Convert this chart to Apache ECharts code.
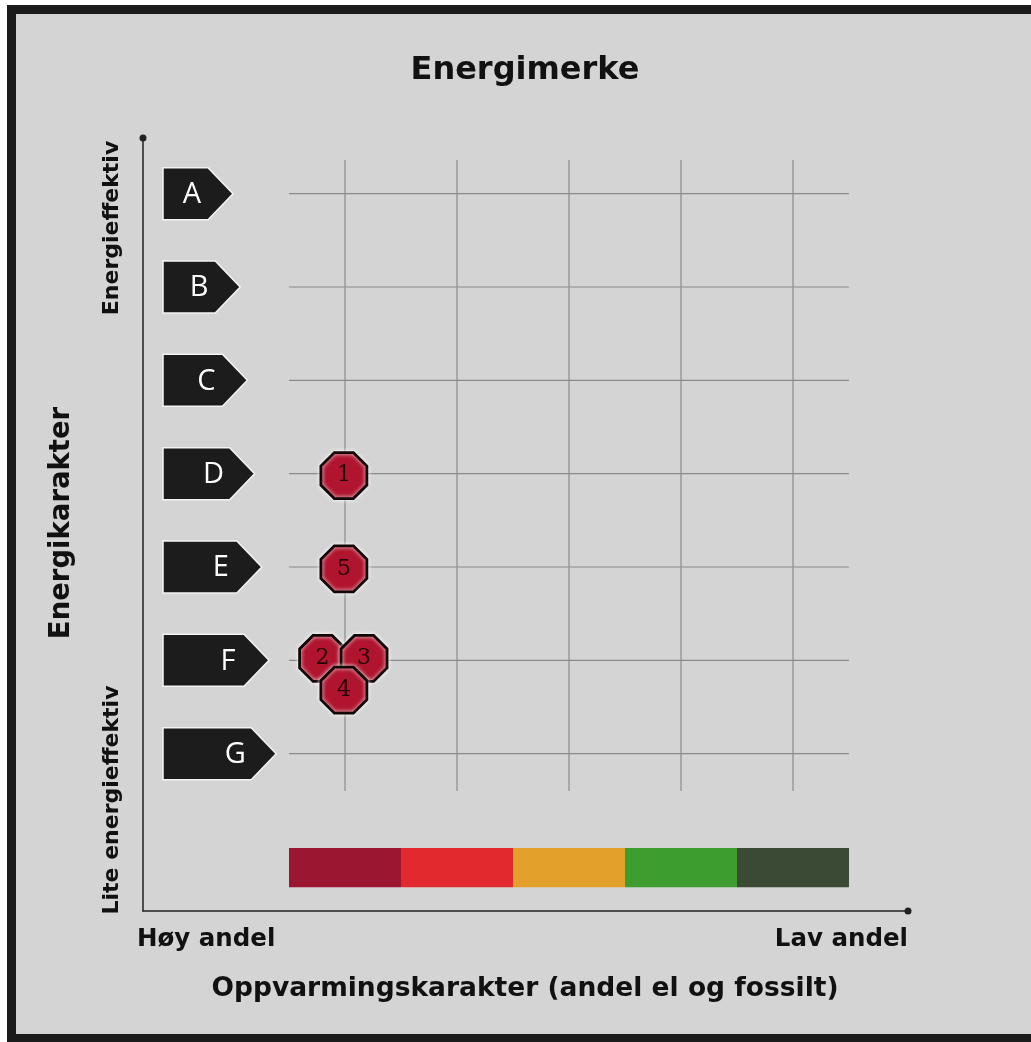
<!DOCTYPE html>
<html>
<head>
<meta charset="utf-8">
<title>Energimerke</title>
<script src="https://cdn.jsdelivr.net/npm/echarts@6/dist/echarts.min.js"></script>
<style>
    html, body { margin: 0; padding: 0; background: #ffffff; }
    #chart { width: 1031px; height: 1042px; }
</style>
</head>
<body>
<div id="chart"></div>
<script>
// energy classes down the left side, A = best
const energyClasses = ['A', 'B', 'C', 'D', 'E', 'F', 'G'];
// heating character steps along the bottom (high share -> low share of el/fossil)
const heatingSteps = [0, 1, 2, 3, 4];
// buildings placed in the matrix
const buildingIds = ['1', '2', '3', '4', '5'];
const buildingHeating = [0.49, 0.30, 0.67, 0.49, 0.49];
const buildingEnergy = [3.52, 5.48, 5.48, 5.82, 4.52];

const bandColors = ['#9b1731', '#e2292d', '#e3a02b', '#3d9e2f', '#3b4a34'];
const octagon = 'path://M29.3,0 L70.7,0 L100,29.3 L100,70.7 L70.7,100 L29.3,100 L0,70.7 L0,29.3 Z';
const boldFont = '"DejaVu Sans", "Liberation Sans", sans-serif';

const myChart = echarts.init(document.getElementById('chart'));

const option = {
    backgroundColor: '#ffffff',
    animation: false,
    graphic: [
        // card background with black frame
        {
            type: 'rect', z: -10,
            shape: { x: 11.5, y: 9.5, width: 1026, height: 1029 },
            style: { fill: '#d4d4d4', stroke: '#1b1b1b', lineWidth: 9 }
        },
        {
            type: 'text', x: 525, y: 71, z: 50,
            style: { text: 'Energimerke', align: 'center', verticalAlign: 'middle',
                font: 'bold 32px ' + boldFont, fill: '#111' }
        },
        {
            type: 'text', x: 62, y: 523, rotation: Math.PI / 2, z: 50,
            style: { text: 'Energikarakter', align: 'center', verticalAlign: 'middle',
                font: 'bold 27.5px ' + boldFont, fill: '#111' }
        },
        {
            type: 'text', x: 112, y: 228, rotation: Math.PI / 2, z: 50,
            style: { text: 'Energieffektiv', align: 'center', verticalAlign: 'middle',
                font: 'bold 22px ' + boldFont, fill: '#111' }
        },
        {
            type: 'text', x: 112, y: 800, rotation: Math.PI / 2, z: 50,
            style: { text: 'Lite energieffektiv', align: 'center', verticalAlign: 'middle',
                font: 'bold 22px ' + boldFont, fill: '#111' }
        },
        {
            type: 'text', x: 137, y: 940, z: 50,
            style: { text: 'Høy andel', align: 'left', verticalAlign: 'middle',
                font: 'bold 24.5px ' + boldFont, fill: '#111' }
        },
        {
            type: 'text', x: 908, y: 940, z: 50,
            style: { text: 'Lav andel', align: 'right', verticalAlign: 'middle',
                font: 'bold 24.5px ' + boldFont, fill: '#111' }
        },
        {
            type: 'text', x: 525, y: 989, z: 50,
            style: { text: 'Oppvarmingskarakter (andel el og fossilt)', align: 'center', verticalAlign: 'middle',
                font: 'bold 26.5px ' + boldFont, fill: '#111' }
        }
    ],
    grid: [
        // matrix area: 5 heating columns x 7 classes (+ room for the colour band)
        { left: 289, top: 147, width: 560, height: 746.67 },
        // outer axis frame
        { left: 143, top: 138, width: 765, height: 773 }
    ],
    xAxis: [
        { type: 'value', gridIndex: 0, min: 0, max: 5, show: false },
        {
            type: 'value', gridIndex: 1, min: 0, max: 1,
            axisLine: { show: true, symbol: ['none', 'circle'], symbolSize: [7, 7],
                lineStyle: { color: '#222', width: 1.5 } },
            axisTick: { show: false }, axisLabel: { show: false }, splitLine: { show: false }
        }
    ],
    yAxis: [
        { type: 'value', gridIndex: 0, min: 0, max: 8, inverse: true, show: false },
        {
            type: 'value', gridIndex: 1, min: 0, max: 1,
            axisLine: { show: true, symbol: ['none', 'circle'], symbolSize: [7, 7],
                lineStyle: { color: '#222', width: 1.5 } },
            axisTick: { show: false }, axisLabel: { show: false }, splitLine: { show: false }
        }
    ],
    series: [
        {
            // vertical grid lines through the heating columns
            type: 'custom', xAxisIndex: 0, yAxisIndex: 0, z: 1, silent: true,
            data: heatingSteps.map(s => [s + 0.5, 0]),
            renderItem: (params, api) => {
                const p0 = api.coord([api.value(0), 0.14]);
                const p1 = api.coord([api.value(0), 6.9]);
                return { type: 'line', shape: { x1: p0[0], y1: p0[1], x2: p1[0], y2: p1[1] },
                    style: { stroke: '#8a8a8a', lineWidth: 1.2 } };
            }
        },
        {
            // horizontal grid lines through the energy classes
            type: 'custom', xAxisIndex: 0, yAxisIndex: 0, z: 1, silent: true,
            data: energyClasses.map((c, i) => [0, i + 0.5]),
            renderItem: (params, api) => {
                const p0 = api.coord([0, api.value(1)]);
                const p1 = api.coord([5, api.value(1)]);
                return { type: 'line', shape: { x1: p0[0], y1: p0[1], x2: p1[0], y2: p1[1] },
                    style: { stroke: '#8a8a8a', lineWidth: 1.2 } };
            }
        },
        {
            // class arrows A..G
            type: 'custom', xAxisIndex: 0, yAxisIndex: 0, z: 3, silent: true,
            data: energyClasses.map((c, i) => [0, i + 0.5]),
            renderItem: (params, api) => {
                const i = params.dataIndex;
                const c = api.coord([0, api.value(1)]);
                const left = c[0] - 126;
                const tip = c[0] - 56 + i * 7.2;
                const body = tip - 25;
                const h = 26;
                return {
                    type: 'group',
                    children: [
                        {
                            type: 'polygon',
                            shape: { points: [[left, c[1] - h], [body, c[1] - h], [tip, c[1]], [body, c[1] + h], [left, c[1] + h]] },
                            style: { fill: '#1c1c1c', stroke: '#f4f4f4', lineWidth: 1.5 }
                        },
                        {
                            type: 'text',
                            style: { text: energyClasses[i], x: tip - 41, y: c[1] + 1, align: 'center', verticalAlign: 'middle',
                                fill: '#ffffff', font: '500 29px "Open Sans", sans-serif' }
                        }
                    ]
                };
            }
        },
        {
            // heating colour band
            type: 'custom', xAxisIndex: 0, yAxisIndex: 0, z: 2, silent: true,
            data: heatingSteps.map(s => [s, 7.5]),
            renderItem: (params, api) => {
                const a = api.coord([api.value(0), 7.51]);
                const b = api.coord([api.value(0) + 1, 7.93]);
                return { type: 'rect', shape: { x: a[0], y: a[1], width: b[0] - a[0], height: b[1] - a[1] },
                    style: { fill: bandColors[params.dataIndex] } };
            }
        },
        {
            // buildings
            type: 'scatter', xAxisIndex: 0, yAxisIndex: 0, z: 5,
            symbol: octagon,
            symbolSize: 46,
            data: buildingIds.map((id, i) => [buildingHeating[i], buildingEnergy[i], id]),
            itemStyle: {
                color: '#b0142e', borderColor: '#120606', borderWidth: 2.8,
                shadowColor: 'rgba(255,255,255,0.9)', shadowBlur: 4, opacity: 1
            },
            label: {
                show: true, position: 'inside',
                formatter: p => p.value[2],
                color: '#240606', fontSize: 22,
                fontFamily: '"DejaVu Serif", "Liberation Serif", serif'
            }
        }
    ]
};

myChart.setOption(option);
</script>
</body>
</html>
